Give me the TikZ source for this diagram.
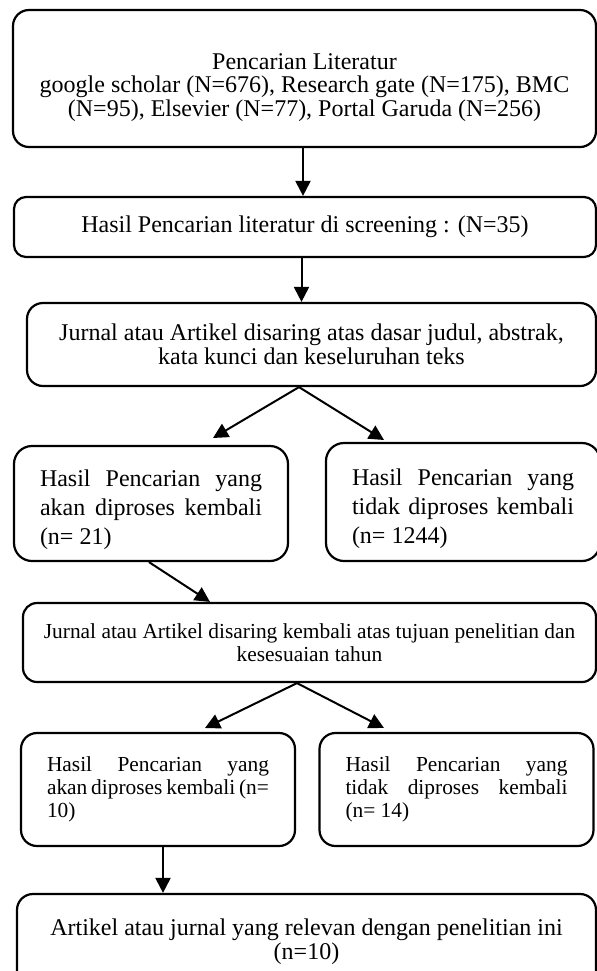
\documentclass[tikz,border=0pt]{standalone}
\usepackage{fontspec}
\setmainfont{Liberation Serif}
\usetikzlibrary{arrows.meta}

\hyphenpenalty=10000
\tolerance=9999

\tikzset{
    box/.style={draw, rectangle, rounded corners=8pt, line width=1.1pt, align=center},
    sidebox/.style={box, align=justify, text width=111pt, inner xsep=13pt},
    arr/.style={-{Triangle[length=7.5pt,width=7.5pt]}, line width=1pt},
    small/.style={font=\fontsize{10.7}{11.6}\selectfont}
}

\begin{document}
\begin{tikzpicture}[x=0.5pt,y=-0.5pt,font=\fontsize{12}{11.8}\selectfont]
\useasboundingbox (0,0) rectangle (597,971);

% Search
\node[box,
    minimum width=291.5pt,
    minimum height=68.5pt] (src) at (304.5,78.5)
    {\rule{0pt}{17pt}Pencarian Literatur\\google scholar (N=676), Research gate (N=175), BMC\\(N=95), Elsevier (N=77), Portal Garuda (N=256)};

% Screening
\node[box,
    rounded corners=6pt,
    minimum width=291pt,
    minimum height=30pt] (scr) at (305,227)
    {Hasil Pencarian literatur di screening : (N=35)};

% First filter
\node[box,
    minimum width=284.5pt,
    minimum height=41.5pt] (filt1) at (311.5,344.5)
    {Jurnal atau Artikel disaring atas dasar judul, abstrak,\\kata kunci dan keseluruhan teks};

\node[sidebox,
    rounded corners=9pt,
    font=\fontsize{12}{14.5}\selectfont,
    minimum height=57.5pt] (keep1) at (151,503.5)
    {\rule{0pt}{15pt}Hasil Pencarian yang\linebreak akan diproses kembali\linebreak (n= 21)};

\node[sidebox,
    rounded corners=9pt,
    font=\fontsize{12}{14.5}\selectfont,
    minimum height=59pt] (drop1) at (463,502)
    {\rule{0pt}{15pt}Hasil Pencarian yang\linebreak tidak diproses kembali\linebreak (n= 1244)};

% Second filter
\node[box,
    small,
    rounded corners=7pt,
    minimum width=286.5pt,
    minimum height=39.5pt] (filt2) at (309.5,642.5)
    {Jurnal atau Artikel disaring kembali atas tujuan penelitian dan\\kesesuaian tahun};

\node[sidebox,
    small,
    minimum height=56.5pt] (keep2) at (158,789.5)
    {Hasil Pencarian yang\linebreak akan diproses kembali (n=\linebreak 10)};

\node[sidebox,
    small,
    minimum height=56.5pt] (drop2) at (456.5,789.5)
    {Hasil Pencarian yang\linebreak tidak diproses kembali\linebreak (n= 14)};

% Result
\node[box,
    minimum width=289.5pt,
    minimum height=48pt] (final) at (306.5,942)
    {Artikel atau jurnal yang relevan dengan penelitian ini\\(n=10)};

\coordinate (tip1) at (213,438);
\coordinate (tip2) at (384,440);
\coordinate (tip3) at (205,728);
\coordinate (tip4) at (384,728);

% Arrows
\draw[arr] ([xshift=-0.75pt]src.south) -- ([xshift=-0.75pt]src.south |- scr.north);
\draw[arr] ([xshift=-1.75pt]scr.south) -- ([xshift=-1.75pt]scr.south |- filt1.north);
\draw[arr] ([xshift=-6.25pt]filt1.south) -- (tip1);
\draw[arr] ([xshift=-6.25pt]filt1.south) -- (tip2);
\draw[arr] ([xshift=-1pt]keep1.south) -- ([xshift=-49.75pt]filt2.north);
\draw[arr] ([xshift=-6.25pt]filt2.south) -- (tip3);
\draw[arr] ([xshift=-6.25pt]filt2.south) -- (tip4);
\draw[arr] ([xshift=2.5pt]keep2.south) -- ([xshift=2.5pt]keep2.south |- final.north);

\end{tikzpicture}
\end{document}
